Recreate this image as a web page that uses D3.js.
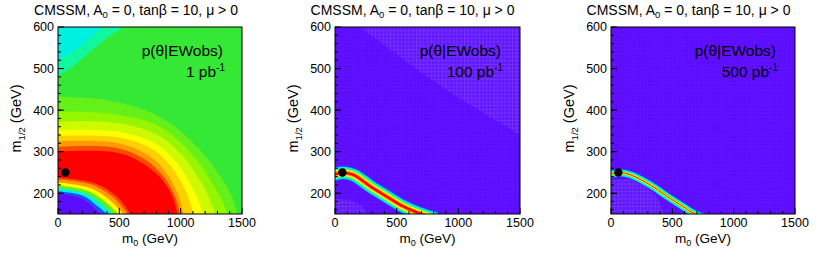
<!DOCTYPE html>
<html><head><meta charset="utf-8">
<script src="https://cdn.jsdelivr.net/npm/d3@7"></script>
<style>
body{margin:0;background:#fff;}
svg{display:block;font-family:"Liberation Sans",Arial,Helvetica,sans-serif;}
</style></head>
<body>
<svg id="chart" width="830" height="254"></svg>
<script>
// ---------------- data ----------------
const titleText = ["CMSSM, A", "0", " = 0, tanβ = 10, μ > 0"];
const m0Ticks = [0, 500, 1000, 1500];
const m12Ticks = [200, 300, 400, 500, 600];
const m0Domain = [0, 1500];
const m12Domain = [150, 600];
const lumiLabels = ["1", "100", "500"];
const benchmark = [60, 250];
const binM0 = 30, binM12 = 9;   // histogram bin sizes (GeV)

// palette (level name -> colour)
const palette = {
  purple: "#5c0cff", purpleLight: "#6218ff", blue: "#1f4dff", lblue: "#00a8ff", cyan: "#00f0e0", aqua: "#10f7a0",
  green: "#35e835", lgreen: "#66f01a", lime: "#96f500", ygreen: "#cdfa00",
  yellow: "#ffff00", yorange: "#ffd000", orange: "#ff9a00", rorange: "#ff4a00", red: "#ff0000"
};

// Panel 1 (1 pb^-1): background level and band outlines [m0, m12]
const p1Background = "green";
const p1TopLeft = [
  {level: "aqua", pts: [[0, 482], [120, 505], [260, 540], [420, 578], [540, 600]]},
  {level: "cyan", pts: [[0, 520], [100, 537], [220, 562], [320, 590], [380, 600]]}
];
const p1Rings = [
  {level: "lgreen",  pts: [[0, 432], [400, 424], [800, 388], [1100, 322], [1300, 250], [1420, 190], [1460, 150]]},
  {level: "lime",    pts: [[0, 396], [400, 392], [800, 365], [1060, 305], [1250, 228], [1350, 175], [1380, 150]]},
  {level: "ygreen",  pts: [[0, 372], [450, 370], [800, 342], [1010, 292], [1180, 220], [1265, 165], [1280, 150]]},
  {level: "yellow",  pts: [[0, 352], [500, 348], [800, 318], [970, 273], [1100, 211], [1170, 162], [1182, 150]]},
  {level: "yorange", pts: [[0, 338], [500, 334], [780, 304], [930, 261], [1040, 206], [1093, 162], [1100, 150]]},
  {level: "orange",  pts: [[0, 325], [480, 321], [740, 291], [880, 251], [975, 200], [1015, 160], [1020, 150]]},
  {level: "rorange", pts: [[0, 312], [460, 310], [700, 283], [850, 244], [950, 195], [995, 150]]},
  {level: "red",     pts: [[0, 300], [450, 299], [650, 279], [830, 239], [930, 194], [975, 150]]},
  {level: "rorange", pts: [[0, 238], [300, 224], [480, 192], [590, 150]]},
  {level: "orange",  pts: [[0, 233], [290, 219], [460, 187], [565, 150]]},
  {level: "yellow",  pts: [[0, 226], [270, 212], [430, 181], [530, 150]]},
  {level: "lgreen",  pts: [[0, 219], [250, 205], [400, 176], [489, 150]]},
  {level: "cyan",    pts: [[0, 212], [230, 199], [365, 172], [445, 150]]},
  {level: "blue",    pts: [[0, 205], [205, 194], [325, 168], [400, 150]]},
  {level: "purple",  pts: [[0, 199], [180, 189], [290, 166], [345, 150]]}
];

// Panels 2 and 3: slightly lighter purple patches [m0, m12]
const p2Light = [
  [[200, 600], [1500, 600], [1500, 340], [1250, 385], [1000, 430], [700, 490], [450, 545], [200, 600]],
  [[0, 150], [0, 186], [120, 184], [220, 170], [260, 150]]
];
const p3Light = [
  [[0, 150], [0, 232], [150, 234], [280, 216], [380, 190], [430, 150]]
];
// Panels 2 and 3: ridge centre lines [m0, m12]
const p2Ridge = [[-60, 241], [0, 246], [65, 249], [150, 244], [284, 217], [419, 192], [554, 168], [689, 151], [820, 139]];
const p3Ridge = [[-60, 242], [0, 246], [80, 249], [160, 244], [320, 220], [450, 194], [592, 167], [672, 152], [780, 140]];
const p2Layers = [["blue", 14], ["cyan", 12], ["aqua", 9.5], ["yellow", 7], ["orange", 4.5], ["red", 2.4]];
const p3Layers = [["blue", 8], ["cyan", 6.6], ["aqua", 5], ["yellow", 2.6], ["red", 1]];

// ---------------- layout ----------------
const panelsX = [[58, 242], [335, 520], [611, 795]];
const plotTop = 27, plotBottom = 214;
const titleCx = [136, 412.5, 688.5];

const svg = d3.select("#chart");
const defs = svg.append("defs");

function drawPanel(i) {
  const [xl, xr] = panelsX[i];
  const x = d3.scaleLinear().domain(m0Domain).range([xl, xr]);
  const y = d3.scaleLinear().domain(m12Domain).range([plotBottom, plotTop]);
  const g = svg.append("g");
  const clipId = "clip" + i;
  defs.append("clipPath").attr("id", clipId).append("rect")
    .attr("x", xl).attr("y", plotTop).attr("width", xr - xl).attr("height", plotBottom - plotTop);
  const plot = g.append("g").attr("clip-path", `url(#${clipId})`);

  const curveLine = d3.line().x(d => x(d[0])).y(d => y(d[1])).curve(d3.curveCatmullRom.alpha(0.5));
  const polyLine = d3.line().x(d => x(d[0])).y(d => y(d[1]));

  plot.append("rect").attr("x", x(m0Domain[0])).attr("y", y(m12Domain[1]))
    .attr("width", x(m0Domain[1]) - x(m0Domain[0])).attr("height", y(m12Domain[0]) - y(m12Domain[1]))
    .attr("fill", i === 0 ? palette[p1Background] : palette.purple);

  const gridLines = (sel, op) => {
    sel.selectAll(null).data(d3.range(binM0, 1500, binM0)).join("line")
      .attr("x1", d => x(d)).attr("x2", d => x(d)).attr("y1", plotTop).attr("y2", plotBottom)
      .attr("stroke", "#fff").attr("stroke-opacity", op).attr("stroke-width", 0.6);
    sel.selectAll(null).data(d3.range(150 + binM12, 600, binM12)).join("line")
      .attr("x1", xl).attr("x2", xr).attr("y1", d => y(d)).attr("y2", d => y(d))
      .attr("stroke", "#fff").attr("stroke-opacity", op).attr("stroke-width", 0.6);
  };

  if (i === 0) {
    p1TopLeft.forEach(b => {
      plot.append("path").attr("d", curveLine(b.pts) + `L${x(0)},${y(600)}Z`).attr("fill", palette[b.level]);
    });
    p1Rings.forEach(b => {
      plot.append("path").attr("d", curveLine(b.pts) + `L${x(0)},${y(150)}Z`).attr("fill", palette[b.level]);
    });
  } else {
    gridLines(plot.append("g"), 0.06);
    (i === 1 ? p2Light : p3Light).forEach((p, k) => {
      const id = `light${i}_${k}`;
      defs.append("clipPath").attr("id", id).append("path").attr("d", polyLine(p) + "Z");
      plot.append("path").attr("d", polyLine(p) + "Z").attr("fill", palette.purpleLight);
      gridLines(plot.append("g").attr("clip-path", `url(#${id})`), 0.16);
    });
    const ridge = i === 1 ? p2Ridge : p3Ridge;
    const layers = i === 1 ? p2Layers : p3Layers;
    layers.forEach(([lvl, w]) => {
      plot.append("path").attr("d", curveLine(ridge)).attr("fill", "none")
        .attr("stroke", palette[lvl]).attr("stroke-width", w);
    });
  }

  // benchmark point
  plot.append("circle").attr("cx", x(benchmark[0])).attr("cy", y(benchmark[1])).attr("r", 4.2).attr("fill", "#000");

  // frame
  g.append("rect").attr("x", xl).attr("y", plotTop).attr("width", xr - xl).attr("height", plotBottom - plotTop)
    .attr("fill", "none").attr("stroke", "#000").attr("stroke-width", 1);

  // ticks (inward)
  g.selectAll(null).data(d3.range(0, 1501, 100)).join("line")
    .attr("x1", d => x(d)).attr("x2", d => x(d))
    .attr("y1", plotBottom).attr("y2", d => plotBottom - (m0Ticks.includes(d) ? 6 : 3))
    .attr("stroke", "#000");
  g.selectAll(null).data(d3.range(160, 600, 20)).join("line")
    .attr("x1", xl).attr("x2", xl + 3).attr("y1", d => y(d)).attr("y2", d => y(d)).attr("stroke", "#000");
  g.selectAll(null).data(m12Ticks).join("line")
    .attr("x1", xl).attr("x2", xl + 6).attr("y1", d => y(d)).attr("y2", d => y(d)).attr("stroke", "#000");

  // tick labels
  g.selectAll(null).data(m0Ticks).join("text")
    .attr("x", d => x(d)).attr("y", 226.5).attr("text-anchor", "middle")
    .attr("font-size", 12.5).text(d => d);
  g.selectAll(null).data(m12Ticks).join("text")
    .attr("x", xl - 4).attr("y", d => y(d) + 4.4).attr("text-anchor", "end")
    .attr("font-size", 12.5).text(d => d);

  // axis titles
  const xt = g.append("text").attr("x", (xl + xr) / 2).attr("y", 242.5).attr("text-anchor", "middle").attr("font-size", 13.5);
  xt.append("tspan").text("m");
  xt.append("tspan").attr("font-size", 9).attr("dy", 3).text("0");
  xt.append("tspan").attr("dy", -3).text(" (GeV)");
  const yt = g.append("text").attr("transform", `translate(${xl - 37},${(plotTop + plotBottom) / 2 - 2}) rotate(-90)`)
    .attr("text-anchor", "middle").attr("font-size", 14.5);
  yt.append("tspan").text("m");
  yt.append("tspan").attr("font-size", 9.5).attr("dy", 3.5).text("1/2");
  yt.append("tspan").attr("dy", -3.5).text(" (GeV)");

  // title
  const tt = g.append("text").attr("x", titleCx[i]).attr("y", 15).attr("text-anchor", "middle").attr("font-size", 14);
  tt.append("tspan").text(titleText[0]);
  tt.append("tspan").attr("font-size", 9.5).attr("dy", 3).text(titleText[1]);
  tt.append("tspan").attr("dy", -3).text(titleText[2]);

  // in-plot label
  g.append("text").attr("x", xr - 19).attr("y", 56).attr("text-anchor", "end").attr("font-size", 15.5).text("p(θ|EWobs)");
  const lt = g.append("text").attr("x", xr - 17).attr("y", 77).attr("text-anchor", "end").attr("font-size", 15.5);
  lt.append("tspan").text(lumiLabels[i] + " pb");
  lt.append("tspan").attr("font-size", 10).attr("dy", -6).text("-1");
}

[0, 1, 2].forEach(drawPanel);
</script>
</body></html>
